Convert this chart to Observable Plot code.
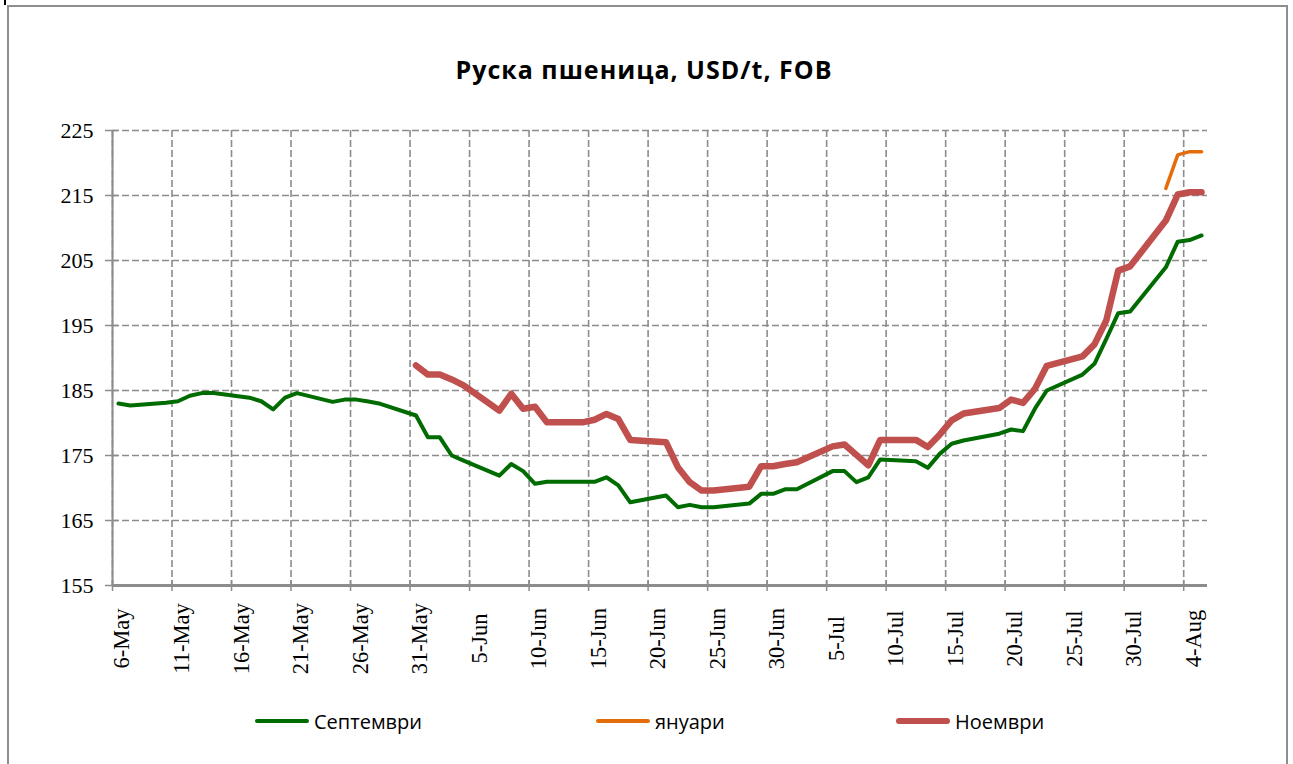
<!DOCTYPE html>
<html>
<head>
<meta charset="utf-8">
<script src="https://cdn.jsdelivr.net/npm/d3@7"></script>
<script src="https://cdn.jsdelivr.net/npm/@observablehq/plot@0.6"></script>
<style>
  html, body { margin: 0; padding: 0; background: #fff; }
  body { width: 1293px; height: 764px; overflow: hidden; position: relative; }
  #frame { position: absolute; left: 7px; top: 5px; width: 1281px; height: 820px; border: 2px solid #8e8e8e; box-sizing: border-box; }
  #mark { position: absolute; left: 4px; top: 0; width: 2px; height: 5px; background: #000; }
  #title { position: absolute; left: 0; top: 54px; width: 1288px; text-align: center;
           font-family: "Open Sans", sans-serif; font-weight: 700; font-size: 25px; letter-spacing: 1px; line-height: 30px; color: #000; white-space: nowrap; }
  #chart { position: absolute; left: 0; top: 110px; }
  #legend { position: absolute; left: 0; top: 707px; width: 1293px; height: 28px; font-family: "Open Sans", sans-serif; font-size: 20px; color: #000; }
  .item { position: absolute; top: 0; height: 28px; display: flex; align-items: center; white-space: nowrap; }
  .sw { display: inline-block; width: 54px; border-radius: 3px; margin-right: 5px; }
</style>
</head>
<body>
<div id="frame"></div>
<div id="mark"></div>
<div id="title"></div>
<div id="chart"></div>
<div id="legend"></div>
<script>
// ---- data ----
const titleText = "Руска пшеница, USD/t, FOB";

const dates = [
  "2010-05-06","2010-05-07","2010-05-10","2010-05-11","2010-05-12","2010-05-13","2010-05-14",
  "2010-05-17","2010-05-18","2010-05-19","2010-05-20","2010-05-21","2010-05-24","2010-05-25",
  "2010-05-26","2010-05-27","2010-05-28","2010-05-31",
  "2010-06-01","2010-06-02","2010-06-03","2010-06-04","2010-06-07","2010-06-08","2010-06-09",
  "2010-06-10","2010-06-11","2010-06-14","2010-06-15","2010-06-16","2010-06-17","2010-06-18",
  "2010-06-21","2010-06-22","2010-06-23","2010-06-24","2010-06-25","2010-06-28","2010-06-29","2010-06-30",
  "2010-07-01","2010-07-02","2010-07-05","2010-07-06","2010-07-07","2010-07-08","2010-07-09",
  "2010-07-12","2010-07-13","2010-07-14","2010-07-15","2010-07-16","2010-07-19","2010-07-20",
  "2010-07-21","2010-07-22","2010-07-23","2010-07-26","2010-07-27","2010-07-28","2010-07-29","2010-07-30",
  "2010-08-02","2010-08-03","2010-08-04","2010-08-05"
];

// Септември
const septValues = [
  183.0,182.7,183.1,183.35,184.2,184.6,184.6,
  183.9,183.35,182.1,183.9,184.6,183.25,183.6,
  183.6,183.3,182.95,181.15,
  177.8,177.8,175.0,174.2,171.9,173.7,172.6,
  170.65,170.95,170.95,170.95,171.65,170.4,167.8,
  168.85,167.05,167.4,167.05,167.05,167.6,169.1,169.1,
  169.8,169.8,172.6,172.6,170.9,171.65,174.4,
  174.1,173.1,175.25,176.8,177.3,178.35,179.0,
  178.75,182.2,185.0,187.45,189.1,192.95,196.9,197.15,
  203.95,207.9,208.15,208.85
];

// Ноември
const novValues = [
  null,null,null,null,null,null,null,
  null,null,null,null,null,null,null,
  null,null,null,188.85,
  187.45,187.45,186.7,185.8,181.9,184.5,182.2,
  182.5,180.1,180.1,180.5,181.4,180.6,177.4,
  177.05,173.2,170.9,169.6,169.6,170.2,173.35,173.35,
  173.7,173.95,176.4,176.7,175.1,173.5,177.4,
  177.4,176.3,178.2,180.4,181.45,182.3,183.6,
  183.1,185.25,188.8,190.25,192.1,195.8,203.45,204.1,
  211.15,215.15,215.5,215.5
];

// януари
const janDates = ["2010-08-02","2010-08-03","2010-08-04","2010-08-05"];
const janValues = [216.1, 221.25, 221.75, 221.75];

const seriesNames = ["Септември", "януари", "Ноември"];
const seriesColors = ["#006b00", "#e46c0a", "#c0504d"];
const seriesWidths = [4, 3.5, 6.5];

const xTickDates = [
  "2010-05-06","2010-05-11","2010-05-16","2010-05-21","2010-05-26","2010-05-31",
  "2010-06-05","2010-06-10","2010-06-15","2010-06-20","2010-06-25","2010-06-30",
  "2010-07-05","2010-07-10","2010-07-15","2010-07-20","2010-07-25","2010-07-30","2010-08-04"
];
const xDomainDates = ["2010-05-06", "2010-08-06"];
const yTicks = [155, 165, 175, 185, 195, 205, 215, 225];
const yDomain = [155, 225];

// ---- build ----
const parseDay = s => new Date(s + "T00:00:00Z");
const midDay = s => new Date(s + "T12:00:00Z");
const fmt = d3.utcFormat("%-d-%b");

const sept = dates.map((d, i) => ({date: midDay(d), value: septValues[i]}));
const nov = dates.map((d, i) => ({date: midDay(d), value: novValues[i]}));
const jan = janDates.map((d, i) => ({date: midDay(d), value: janValues[i]}));
const xTicks = xTickDates.map(parseDay);
const xDomain = xDomainDates.map(parseDay);

const gridStyle = {stroke: "#8c8c8c", strokeOpacity: 1, strokeWidth: 1.6, strokeDasharray: "7,3"};
const axisGray = "#8c8c8c";

const chart = Plot.plot({
  width: 1293,
  height: 600,
  marginTop: 20,
  marginBottom: 125,
  marginLeft: 112,
  marginRight: 86,
  style: {background: "transparent", fontFamily: "'Liberation Serif', serif", fontSize: "22px", color: "#000", overflow: "visible"},
  x: {type: "utc", domain: xDomain, axis: null},
  y: {domain: yDomain, axis: null},
  marks: [
    Plot.gridX(xTicks, gridStyle),
    Plot.gridY(yTicks, gridStyle),
    Plot.ruleX([xDomain[0]], {stroke: axisGray, strokeWidth: 2}),
    Plot.ruleY([yDomain[0]], {stroke: axisGray, strokeWidth: 3}),
    Plot.axisY(yTicks, {anchor: "left", tickSize: 7, tickPadding: 12, stroke: axisGray, strokeWidth: 1.5, fill: "#000", label: null, fontSize: 22}),
    Plot.axisY(yTicks, {anchor: "left", tickSize: -6, stroke: axisGray, strokeWidth: 1.5, fill: "none", label: null}),
    Plot.axisX(xTicks, {anchor: "bottom", tickSize: 6, stroke: axisGray, strokeWidth: 1.5, fill: "none", label: null}),
    Plot.axisX(xTicks, {anchor: "bottom", tickSize: -5, stroke: axisGray, strokeWidth: 1.5, fill: "none", label: null}),
    Plot.text(xTicks, {x: d => d, frameAnchor: "bottom", text: d => fmt(d), rotate: -90,
      textAnchor: "middle", lineAnchor: "top", dy: 53, dx: 1, fontSize: 22.5, fill: "#000"}),
    Plot.line(sept, {x: "date", y: "value", stroke: seriesColors[0], strokeWidth: seriesWidths[0], strokeLinejoin: "round", strokeLinecap: "round"}),
    Plot.line(jan, {x: "date", y: "value", stroke: seriesColors[1], strokeWidth: seriesWidths[1], strokeLinejoin: "round", strokeLinecap: "round"}),
    Plot.line(nov, {x: "date", y: "value", stroke: seriesColors[2], strokeWidth: seriesWidths[2], strokeLinejoin: "round", strokeLinecap: "round"})
  ]
});
document.getElementById("chart").appendChild(chart);

document.getElementById("title").textContent = titleText;

const legendLefts = [255, 596, 896];
const legend = document.getElementById("legend");
seriesNames.forEach((name, i) => {
  const item = document.createElement("div");
  item.className = "item";
  item.style.left = legendLefts[i] + "px";
  const sw = document.createElement("span");
  sw.className = "sw";
  sw.style.height = seriesWidths[i] + "px";
  sw.style.background = seriesColors[i];
  const tx = document.createElement("span");
  tx.textContent = name;
  item.appendChild(sw);
  item.appendChild(tx);
  legend.appendChild(item);
});
</script>
</body>
</html>
